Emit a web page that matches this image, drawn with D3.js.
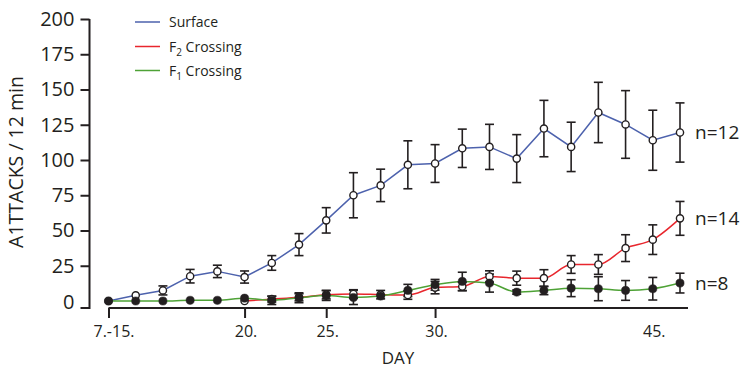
<!DOCTYPE html>
<html>
<head>
<meta charset="utf-8">
<script src="https://cdn.jsdelivr.net/npm/d3@7"></script>
<style>
  html, body { margin: 0; padding: 0; background: #fff; }
  svg { display: block; }
  text { font-family: "Open Sans", sans-serif; fill: #231f20; }
</style>
</head>
<body>
<svg id="chart" width="740" height="368"></svg>
<script>
// Observation index along the day axis (22 recordings)
const obsIndex = d3.range(22);
const xTickIdx = [0, 5, 8, 12, 20];
const xTickLabels = ["7.-15.", "20.", "25.", "30.", "45."];
const xTickMarked = [true, true, true, true, false];
const yTicks = [0, 25, 50, 75, 100, 125, 150, 175, 200];

// Mean attacks per 12 min and error (±)
const surface    = [0, 4, 7.5, 17.6, 21, 17, 27, 40, 57.2, 75, 82, 96.6, 97.5, 108.3, 109.3, 101, 122.3, 109.3, 133.7, 125.2, 114, 119.5];
const surfaceErr = [0, 0, 3.2, 4.8, 4.4, 4.3, 5.2, 7.8, 9, 16, 11.5, 17, 13.4, 13.6, 16, 17, 20, 17.5, 21.4, 24, 21.3, 21];

const f2    = [null, null, null, null, null, 0, 1.3, 2.6, 4.5, 5, 4.5, 4.2, 9.5, 10.3, 17.4, 16.2, 16.2, 25.9, 25.9, 37.5, 43.5, 58.6];
const f2Err = [null, null, null, null, null, 0, 2, 2.5, 3, 3, 3, 3, 4.4, 3, 4, 5, 6, 6.3, 7, 9.5, 10.5, 12];

const f1    = [0, 0, 0, 0.5, 0.5, 2, 0.5, 2.3, 3.9, 2.5, 3.5, 7.5, 11.5, 13.9, 12.7, 6.3, 7.5, 9.1, 8.7, 7.5, 8.7, 12.7];
const f1Err = [0, 0, 0, 0, 0, 0, 3, 3.5, 3.5, 5, 0, 4.3, 3.8, 6.5, 6.4, 1.5, 3, 6, 8.5, 7, 8, 7];

const seriesNames = ["Surface", "F2 Crossing", "F1 Crossing"];
const nLabels = ["n=12", "n=14", "n=8"];
const colors = ["#4d62ad", "#e8262d", "#4ea236"];
const ink = "#231f20";

const svg = d3.select("#chart");

const x = d3.scaleLinear().domain([0, 21]).range([108.5, 680]);
const y = d3.scaleLinear().domain([0, 200]).range([301, 19]);

// ---- Y axis ----
const yAxisG = svg.append("g").attr("transform", "translate(89.5,0)");
yAxisG.call(d3.axisLeft(y).tickValues(yTicks).tickSize(9).tickSizeOuter(0).tickPadding(6));
yAxisG.select(".domain").remove();
yAxisG.append("line")
  .attr("x1", 0).attr("x2", 0).attr("y1", y(200)).attr("y2", 309)
  .attr("stroke", ink).attr("stroke-width", 2);
yAxisG.selectAll(".tick line").attr("stroke", ink).attr("stroke-width", 2);
yAxisG.selectAll(".tick text")
  .style("font-size", "20px").attr("fill", ink);
// the zero tick sits at the foot of the axis line
yAxisG.selectAll(".tick").filter(d => d === 0).each(function () {
  const t = d3.select(this);
  t.attr("transform", "translate(0,308)");
  t.select("text").attr("y", -5);
});

svg.append("text")
  .attr("transform", "translate(23,162) rotate(-90)")
  .attr("text-anchor", "middle")
  .style("font-size", "19.5px")
  .text("A1TTACKS / 12 min");

// ---- X axis ----
const xAxisG = svg.append("g").attr("transform", "translate(0,308)");
xAxisG.call(d3.axisBottom(x).tickValues(xTickIdx)
  .tickFormat((d, i) => xTickLabels[i]).tickSize(10).tickSizeOuter(0).tickPadding(8));
xAxisG.select(".domain").remove();
xAxisG.append("line")
  .attr("x1", x(0)).attr("x2", 688).attr("y1", 0).attr("y2", 0)
  .attr("stroke", ink).attr("stroke-width", 2);
xAxisG.selectAll(".tick line")
  .attr("stroke", ink).attr("stroke-width", 2)
  .attr("opacity", (d, i) => xTickMarked[i] ? 1 : 0);
xAxisG.selectAll(".tick text")
  .style("font-size", "16px").attr("fill", ink)
  .attr("dx", (d, i) => i === 0 ? 5 : 1);

svg.append("text")
  .attr("x", 398).attr("y", 364)
  .attr("text-anchor", "middle")
  .style("font-size", "17px")
  .text("DAY");

// ---- Series ----
const series = [
  { vals: surface, err: surfaceErr, curve: d3.curveLinear, open: true },
  { vals: f2, err: f2Err, curve: d3.curveMonotoneX, open: true },
  { vals: f1, err: f1Err, curve: d3.curveMonotoneX, open: false }
];

const toPts = s => obsIndex
  .map(i => ({ i, v: s.vals[i], e: s.err[i] }))
  .filter(p => p.v !== null);

// lines
series.forEach((s, k) => {
  const line = d3.line().x(p => x(p.i)).y(p => y(p.v)).curve(s.curve);
  svg.append("path")
    .datum(toPts(s))
    .attr("d", line)
    .attr("fill", "none")
    .attr("stroke", colors[k])
    .attr("stroke-width", 1.5);
});

// error bars
const capW = 4.5;
series.forEach(s => {
  const g = svg.append("g").attr("stroke", ink).attr("stroke-width", 1.6).attr("fill", "none");
  toPts(s).filter(p => p.e > 0).forEach(p => {
    const cx = x(p.i), top = y(p.v + p.e), bot = y(p.v - p.e);
    g.append("line").attr("x1", cx).attr("x2", cx).attr("y1", top).attr("y2", bot);
    g.append("line").attr("x1", cx - capW).attr("x2", cx + capW).attr("y1", top).attr("y2", top);
    g.append("line").attr("x1", cx - capW).attr("x2", cx + capW).attr("y1", bot).attr("y2", bot);
  });
});

// markers
series.forEach(s => {
  svg.append("g").selectAll("circle")
    .data(toPts(s))
    .join("circle")
    .attr("cx", p => x(p.i))
    .attr("cy", p => y(p.v))
    .attr("r", s.open ? 3.6 : 4.1)
    .attr("fill", s.open ? "#fff" : ink)
    .attr("stroke", ink)
    .attr("stroke-width", s.open ? 1.4 : 0.5);
});

// n labels at the end of each series
const lastVals = [surface[21], f2[21], f1[21]];
svg.append("g").selectAll("text")
  .data(nLabels)
  .join("text")
  .attr("x", 695)
  .attr("y", (d, k) => y(lastVals[k]))
  .attr("dy", "0.36em")
  .style("font-size", "19px")
  .text(d => d);

// ---- Legend ----
const legendY = [22, 46.5, 70.5];
const lg = svg.append("g");
seriesNames.forEach((name, k) => {
  lg.append("line")
    .attr("x1", 135).attr("x2", 160)
    .attr("y1", legendY[k]).attr("y2", legendY[k])
    .attr("stroke", colors[k]).attr("stroke-width", 1.5);
  const t = lg.append("text")
    .attr("x", 169).attr("y", legendY[k] + 5)
    .style("font-size", "14px");
  if (k === 0) {
    t.text(name);
  } else {
    t.append("tspan").text(name[0]);
    t.append("tspan").attr("dy", 4).style("font-size", "10px").text(name[1]);
    t.append("tspan").attr("dy", -4).text(" " + name.slice(3));
  }
});
</script>
</body>
</html>
